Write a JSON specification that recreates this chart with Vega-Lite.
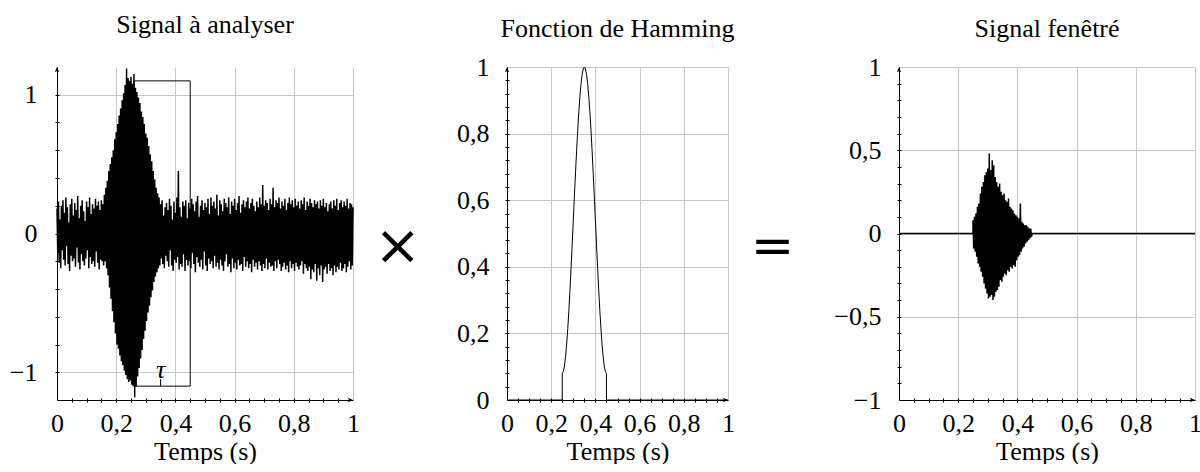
{
"$schema": "https://vega.github.io/schema/vega-lite/v6.json",
"background": "white",
"padding": {"left": 9, "top": 12, "right": 0, "bottom": 0},
"bounds": "flush",
"spacing": 0,
"datasets": {
"sig": [
{"t":0,"v":0.18},{"t":0.0025,"v":-0.14},{"t":0.005,"v":0.23},{"t":0.0075,"v":-0.21},{"t":0.01,"v":0.1},{"t":0.0125,"v":-0.25},{"t":0.015,"v":0.2},{"t":0.0175,"v":-0.12},{"t":0.02,"v":0.24},{"t":0.0225,"v":-0.19},
{"t":0.025,"v":0.15},{"t":0.0275,"v":-0.23},{"t":0.03,"v":0.26},{"t":0.0325,"v":-0.09},{"t":0.035,"v":0.19},{"t":0.0375,"v":-0.22},{"t":0.04,"v":0.08},{"t":0.0425,"v":-0.27},{"t":0.045,"v":0.21},{"t":0.0475,"v":-0.16},
{"t":0.05,"v":0.25},{"t":0.0525,"v":-0.2},{"t":0.055,"v":0.13},{"t":0.0575,"v":-0.18},{"t":0.06,"v":0.22},{"t":0.0625,"v":-0.24},{"t":0.065,"v":0.17},{"t":0.0675,"v":-0.1},{"t":0.07,"v":0.27},{"t":0.0725,"v":-0.21},
{"t":0.075,"v":0.11},{"t":0.0775,"v":-0.26},{"t":0.08,"v":0.2},{"t":0.0825,"v":-0.15},{"t":0.085,"v":0.24},{"t":0.0875,"v":-0.2},{"t":0.09,"v":0.16},{"t":0.0925,"v":-0.23},{"t":0.095,"v":0.09},{"t":0.0975,"v":-0.18},
{"t":0.1,"v":0.23},{"t":0.1025,"v":-0.12},{"t":0.105,"v":0.19},{"t":0.1075,"v":-0.25},{"t":0.11,"v":0.26},{"t":0.1125,"v":-0.17},{"t":0.115,"v":0.14},{"t":0.1175,"v":-0.22},{"t":0.12,"v":0.21},{"t":0.1225,"v":-0.2},
{"t":0.125,"v":0.18},{"t":0.1275,"v":-0.24},{"t":0.13,"v":0.25},{"t":0.1325,"v":-0.13},{"t":0.135,"v":0.2},{"t":0.1375,"v":-0.21},{"t":0.14,"v":0.23},{"t":0.1425,"v":-0.26},{"t":0.145,"v":0.17},{"t":0.1475,"v":-0.19},
{"t":0.15,"v":0.24},{"t":0.1525,"v":-0.2},{"t":0.155,"v":0.21},{"t":0.1575,"v":-0.23},{"t":0.16,"v":0.28},{"t":0.1625,"v":-0.2},{"t":0.165,"v":0.33},{"t":0.1675,"v":-0.25},{"t":0.17,"v":0.38},{"t":0.1725,"v":-0.3},
{"t":0.175,"v":0.45},{"t":0.1775,"v":-0.39},{"t":0.18,"v":0.5},{"t":0.1825,"v":-0.47},{"t":0.185,"v":0.55},{"t":0.1875,"v":-0.56},{"t":0.19,"v":0.6},{"t":0.1925,"v":-0.64},{"t":0.195,"v":0.68},{"t":0.1975,"v":-0.72},
{"t":0.2,"v":0.73},{"t":0.2025,"v":-0.8},{"t":0.205,"v":0.79},{"t":0.2075,"v":-0.83},{"t":0.21,"v":0.85},{"t":0.2125,"v":-0.88},{"t":0.215,"v":0.9},{"t":0.2175,"v":-0.92},{"t":0.22,"v":0.96},{"t":0.2225,"v":-0.95},
{"t":0.225,"v":1.01},{"t":0.2275,"v":-0.99},{"t":0.23,"v":1.07},{"t":0.2325,"v":-1.02},{"t":0.235,"v":1.19},{"t":0.2375,"v":-1.05},{"t":0.24,"v":1.12},{"t":0.2425,"v":-1.07},{"t":0.245,"v":1.1},{"t":0.2475,"v":-1.06},
{"t":0.25,"v":1.13},{"t":0.2525,"v":-1.09},{"t":0.255,"v":1.08},{"t":0.2575,"v":-1.1},{"t":0.26,"v":1.15},{"t":0.2625,"v":-1.18},{"t":0.265,"v":1.05},{"t":0.2675,"v":-1.1},{"t":0.27,"v":1.02},{"t":0.2725,"v":-1.03},
{"t":0.275,"v":0.98},{"t":0.2775,"v":-0.97},{"t":0.28,"v":0.94},{"t":0.2825,"v":-0.9},{"t":0.285,"v":0.88},{"t":0.2875,"v":-0.84},{"t":0.29,"v":0.84},{"t":0.2925,"v":-0.76},{"t":0.295,"v":0.79},{"t":0.2975,"v":-0.7},
{"t":0.3,"v":0.72},{"t":0.3025,"v":-0.63},{"t":0.305,"v":0.69},{"t":0.3075,"v":-0.57},{"t":0.31,"v":0.63},{"t":0.3125,"v":-0.52},{"t":0.315,"v":0.57},{"t":0.3175,"v":-0.46},{"t":0.32,"v":0.52},{"t":0.3225,"v":-0.41},
{"t":0.325,"v":0.45},{"t":0.3275,"v":-0.35},{"t":0.33,"v":0.39},{"t":0.3325,"v":-0.31},{"t":0.335,"v":0.33},{"t":0.3375,"v":-0.28},{"t":0.34,"v":0.29},{"t":0.3425,"v":-0.25},{"t":0.345,"v":0.26},{"t":0.3475,"v":-0.23},
{"t":0.35,"v":0.21},{"t":0.3525,"v":-0.18},{"t":0.355,"v":0.24},{"t":0.3575,"v":-0.22},{"t":0.36,"v":0.13},{"t":0.3625,"v":-0.25},{"t":0.365,"v":0.19},{"t":0.3675,"v":-0.16},{"t":0.37,"v":0.22},{"t":0.3725,"v":-0.2},
{"t":0.375,"v":0.17},{"t":0.3775,"v":-0.24},{"t":0.38,"v":0.25},{"t":0.3825,"v":-0.12},{"t":0.385,"v":0.2},{"t":0.3875,"v":-0.23},{"t":0.39,"v":0.1},{"t":0.3925,"v":-0.27},{"t":0.395,"v":0.23},{"t":0.3975,"v":-0.19},
{"t":0.4,"v":0.15},{"t":0.4025,"v":-0.21},{"t":0.405,"v":0.26},{"t":0.4075,"v":-0.17},{"t":0.41,"v":0.45},{"t":0.4125,"v":-0.26},{"t":0.415,"v":0.19},{"t":0.4175,"v":-0.22},{"t":0.42,"v":0.12},{"t":0.4225,"v":-0.24},
{"t":0.425,"v":0.23},{"t":0.4275,"v":-0.15},{"t":0.43,"v":0.2},{"t":0.4325,"v":-0.27},{"t":0.435,"v":0.24},{"t":0.4375,"v":-0.19},{"t":0.44,"v":0.11},{"t":0.4425,"v":-0.23},{"t":0.445,"v":0.22},{"t":0.4475,"v":-0.2},
{"t":0.45,"v":0.18},{"t":0.4525,"v":-0.25},{"t":0.455,"v":0.25},{"t":0.4575,"v":-0.14},{"t":0.46,"v":0.21},{"t":0.4625,"v":-0.22},{"t":0.465,"v":0.16},{"t":0.4675,"v":-0.28},{"t":0.47,"v":0.23},{"t":0.4725,"v":-0.17},
{"t":0.475,"v":0.27},{"t":0.4775,"v":-0.21},{"t":0.48,"v":0.12},{"t":0.4825,"v":-0.24},{"t":0.485,"v":0.2},{"t":0.4875,"v":-0.19},{"t":0.49,"v":0.24},{"t":0.4925,"v":-0.26},{"t":0.495,"v":0.17},{"t":0.4975,"v":-0.13},
{"t":0.5,"v":0.22},{"t":0.5025,"v":-0.23},{"t":0.505,"v":0.19},{"t":0.5075,"v":-0.27},{"t":0.51,"v":0.25},{"t":0.5125,"v":-0.18},{"t":0.515,"v":0.14},{"t":0.5175,"v":-0.22},{"t":0.52,"v":0.26},{"t":0.5225,"v":-0.2},
{"t":0.525,"v":0.2},{"t":0.5275,"v":-0.25},{"t":0.53,"v":0.23},{"t":0.5325,"v":-0.16},{"t":0.535,"v":0.18},{"t":0.5375,"v":-0.24},{"t":0.54,"v":0.28},{"t":0.5425,"v":-0.21},{"t":0.545,"v":0.13},{"t":0.5475,"v":-0.26},
{"t":0.55,"v":0.24},{"t":0.5525,"v":-0.19},{"t":0.555,"v":0.21},{"t":0.5575,"v":-0.23},{"t":0.56,"v":0.16},{"t":0.5625,"v":-0.27},{"t":0.565,"v":0.25},{"t":0.5675,"v":-0.2},{"t":0.57,"v":0.22},{"t":0.5725,"v":-0.15},
{"t":0.575,"v":0.19},{"t":0.5775,"v":-0.24},{"t":0.58,"v":0.26},{"t":0.5825,"v":-0.22},{"t":0.585,"v":0.14},{"t":0.5875,"v":-0.28},{"t":0.59,"v":0.23},{"t":0.5925,"v":-0.18},{"t":0.595,"v":0.2},{"t":0.5975,"v":-0.25},
{"t":0.6,"v":0.25},{"t":0.6025,"v":-0.21},{"t":0.605,"v":0.17},{"t":0.6075,"v":-0.26},{"t":0.61,"v":0.22},{"t":0.6125,"v":-0.19},{"t":0.615,"v":0.27},{"t":0.6175,"v":-0.23},{"t":0.62,"v":0.15},{"t":0.6225,"v":-0.22},
{"t":0.625,"v":0.21},{"t":0.6275,"v":-0.27},{"t":0.63,"v":0.24},{"t":0.6325,"v":-0.17},{"t":0.635,"v":0.19},{"t":0.6375,"v":-0.24},{"t":0.64,"v":0.23},{"t":0.6425,"v":-0.2},{"t":0.645,"v":0.26},{"t":0.6475,"v":-0.25},
{"t":0.65,"v":0.18},{"t":0.6525,"v":-0.22},{"t":0.655,"v":0.22},{"t":0.6575,"v":-0.28},{"t":0.66,"v":0.25},{"t":0.6625,"v":-0.19},{"t":0.665,"v":0.2},{"t":0.6675,"v":-0.24},{"t":0.67,"v":0.16},{"t":0.6725,"v":-0.21},
{"t":0.675,"v":0.23},{"t":0.6775,"v":-0.26},{"t":0.68,"v":0.19},{"t":0.6825,"v":-0.2},{"t":0.685,"v":0.26},{"t":0.6875,"v":-0.23},{"t":0.69,"v":0.21},{"t":0.6925,"v":-0.27},{"t":0.695,"v":0.35},{"t":0.6975,"v":-0.22},
{"t":0.7,"v":0.2},{"t":0.7025,"v":-0.25},{"t":0.705,"v":0.24},{"t":0.7075,"v":-0.18},{"t":0.71,"v":0.22},{"t":0.7125,"v":-0.26},{"t":0.715,"v":0.17},{"t":0.7175,"v":-0.21},{"t":0.72,"v":0.25},{"t":0.7225,"v":-0.24},
{"t":0.725,"v":0.21},{"t":0.7275,"v":-0.23},{"t":0.73,"v":0.33},{"t":0.7325,"v":-0.27},{"t":0.735,"v":0.19},{"t":0.7375,"v":-0.2},{"t":0.74,"v":0.24},{"t":0.7425,"v":-0.25},{"t":0.745,"v":0.22},{"t":0.7475,"v":-0.19},
{"t":0.75,"v":0.26},{"t":0.7525,"v":-0.22},{"t":0.755,"v":0.18},{"t":0.7575,"v":-0.27},{"t":0.76,"v":0.23},{"t":0.7625,"v":-0.24},{"t":0.765,"v":0.2},{"t":0.7675,"v":-0.21},{"t":0.77,"v":0.25},{"t":0.7725,"v":-0.26},
{"t":0.775,"v":0.17},{"t":0.7775,"v":-0.23},{"t":0.78,"v":0.22},{"t":0.7825,"v":-0.28},{"t":0.785,"v":0.26},{"t":0.7875,"v":-0.2},{"t":0.79,"v":0.21},{"t":0.7925,"v":-0.25},{"t":0.795,"v":0.24},{"t":0.7975,"v":-0.22},
{"t":0.8,"v":0.19},{"t":0.8025,"v":-0.27},{"t":0.805,"v":0.25},{"t":0.8075,"v":-0.21},{"t":0.81,"v":0.2},{"t":0.8125,"v":-0.24},{"t":0.815,"v":0.23},{"t":0.8175,"v":-0.26},{"t":0.82,"v":0.18},{"t":0.8225,"v":-0.23},
{"t":0.825,"v":0.24},{"t":0.8275,"v":-0.2},{"t":0.83,"v":0.21},{"t":0.8325,"v":-0.29},{"t":0.835,"v":0.26},{"t":0.8375,"v":-0.22},{"t":0.84,"v":0.17},{"t":0.8425,"v":-0.25},{"t":0.845,"v":0.23},{"t":0.8475,"v":-0.27},
{"t":0.85,"v":0.2},{"t":0.8525,"v":-0.24},{"t":0.855,"v":0.25},{"t":0.8575,"v":-0.33},{"t":0.86,"v":0.22},{"t":0.8625,"v":-0.26},{"t":0.865,"v":0.19},{"t":0.8675,"v":-0.28},{"t":0.87,"v":0.24},{"t":0.8725,"v":-0.22},
{"t":0.875,"v":0.21},{"t":0.8775,"v":-0.34},{"t":0.88,"v":0.23},{"t":0.8825,"v":-0.25},{"t":0.885,"v":0.18},{"t":0.8875,"v":-0.3},{"t":0.89,"v":0.24},{"t":0.8925,"v":-0.23},{"t":0.895,"v":0.2},{"t":0.8975,"v":-0.35},
{"t":0.9,"v":0.25},{"t":0.9025,"v":-0.26},{"t":0.905,"v":0.19},{"t":0.9075,"v":-0.24},{"t":0.91,"v":0.22},{"t":0.9125,"v":-0.29},{"t":0.915,"v":0.16},{"t":0.9175,"v":-0.22},{"t":0.92,"v":0.21},{"t":0.9225,"v":-0.27},
{"t":0.925,"v":0.23},{"t":0.9275,"v":-0.25},{"t":0.93,"v":0.18},{"t":0.9325,"v":-0.3},{"t":0.935,"v":0.24},{"t":0.9375,"v":-0.23},{"t":0.94,"v":0.2},{"t":0.9425,"v":-0.28},{"t":0.945,"v":0.25},{"t":0.9475,"v":-0.24},
{"t":0.95,"v":0.17},{"t":0.9525,"v":-0.26},{"t":0.955,"v":0.22},{"t":0.9575,"v":-0.21},{"t":0.96,"v":0.24},{"t":0.9625,"v":-0.27},{"t":0.965,"v":0.19},{"t":0.9675,"v":-0.25},{"t":0.97,"v":0.23},{"t":0.9725,"v":-0.22},
{"t":0.975,"v":0.2},{"t":0.9775,"v":-0.28},{"t":0.98,"v":0.25},{"t":0.9825,"v":-0.24},{"t":0.985,"v":0.18},{"t":0.9875,"v":-0.2},{"t":0.99,"v":0.22},{"t":0.9925,"v":-0.26},{"t":0.995,"v":0.21},{"t":0.9975,"v":-0.23},
{"t":1,"v":0.19}
],
"ham": [
{"t":0,"v":0},{"t":0.25,"v":0},{"t":0.25,"v":0.08},{"t":0.255,"v":0.0857},{"t":0.26,"v":0.1025},{"t":0.265,"v":0.1301},{"t":0.27,"v":0.1679},{"t":0.275,"v":0.2147},{"t":0.28,"v":0.2696},{"t":0.285,"v":0.3312},{"t":0.29,"v":0.3979},{"t":0.295,"v":0.468},{"t":0.3,"v":0.54},{"t":0.305,"v":0.612},{"t":0.31,"v":0.6821},{"t":0.315,"v":0.7488},{"t":0.32,"v":0.8104},{"t":0.325,"v":0.8653},{"t":0.33,"v":0.9121},{"t":0.335,"v":0.9499},{"t":0.34,"v":0.9775},{"t":0.345,"v":0.9943},{"t":0.35,"v":1},{"t":0.355,"v":0.9943},{"t":0.36,"v":0.9775},{"t":0.365,"v":0.9499},{"t":0.37,"v":0.9121},{"t":0.375,"v":0.8653},{"t":0.38,"v":0.8104},{"t":0.385,"v":0.7488},{"t":0.39,"v":0.6821},{"t":0.395,"v":0.612},{"t":0.4,"v":0.54},{"t":0.405,"v":0.468},{"t":0.41,"v":0.3979},{"t":0.415,"v":0.3312},{"t":0.42,"v":0.2696},{"t":0.425,"v":0.2147},{"t":0.43,"v":0.1679},{"t":0.435,"v":0.1301},{"t":0.44,"v":0.1025},{"t":0.445,"v":0.0857},{"t":0.45,"v":0.08},{"t":0.45,"v":0},{"t":1,"v":0}
],
"win": [
{"t":0,"v":0},{"t":0.25,"v":0},
{"t":0.25,"v":0.08},{"t":0.2525,"v":-0.09},{"t":0.255,"v":0.1},{"t":0.2575,"v":-0.11},{"t":0.26,"v":0.12},{"t":0.2625,"v":-0.14},{"t":0.265,"v":0.16},{"t":0.2675,"v":-0.18},{"t":0.27,"v":0.18},{"t":0.2725,"v":-0.2},
{"t":0.275,"v":0.24},{"t":0.2775,"v":-0.23},{"t":0.28,"v":0.28},{"t":0.2825,"v":-0.26},{"t":0.285,"v":0.31},{"t":0.2875,"v":-0.3},{"t":0.29,"v":0.35},{"t":0.2925,"v":-0.33},{"t":0.295,"v":0.37},{"t":0.2975,"v":-0.36},
{"t":0.3,"v":0.39},{"t":0.3025,"v":-0.39},{"t":0.305,"v":0.48},{"t":0.3075,"v":-0.38},{"t":0.31,"v":0.38},{"t":0.3125,"v":-0.37},{"t":0.315,"v":0.44},{"t":0.3175,"v":-0.4},{"t":0.32,"v":0.41},{"t":0.3225,"v":-0.38},
{"t":0.325,"v":0.34},{"t":0.3275,"v":-0.35},{"t":0.33,"v":0.31},{"t":0.3325,"v":-0.34},{"t":0.335,"v":0.28},{"t":0.3375,"v":-0.32},{"t":0.34,"v":0.3},{"t":0.3425,"v":-0.28},{"t":0.345,"v":0.25},{"t":0.3475,"v":-0.29},
{"t":0.35,"v":0.23},{"t":0.3525,"v":-0.26},{"t":0.355,"v":0.24},{"t":0.3575,"v":-0.24},{"t":0.36,"v":0.2},{"t":0.3625,"v":-0.25},{"t":0.365,"v":0.19},{"t":0.3675,"v":-0.22},{"t":0.37,"v":0.21},{"t":0.3725,"v":-0.23},
{"t":0.375,"v":0.16},{"t":0.3775,"v":-0.2},{"t":0.38,"v":0.15},{"t":0.3825,"v":-0.21},{"t":0.385,"v":0.14},{"t":0.3875,"v":-0.19},{"t":0.39,"v":0.12},{"t":0.3925,"v":-0.2},{"t":0.395,"v":0.11},{"t":0.3975,"v":-0.16},
{"t":0.4,"v":0.1},{"t":0.4025,"v":-0.14},{"t":0.405,"v":0.09},{"t":0.4075,"v":-0.13},{"t":0.41,"v":0.18},{"t":0.4125,"v":-0.11},{"t":0.415,"v":0.07},{"t":0.4175,"v":-0.09},{"t":0.42,"v":0.06},{"t":0.4225,"v":-0.08},
{"t":0.425,"v":0.05},{"t":0.4275,"v":-0.06},{"t":0.43,"v":0.05},{"t":0.4325,"v":-0.05},{"t":0.435,"v":0.04},{"t":0.4375,"v":-0.04},{"t":0.44,"v":0.03},{"t":0.4425,"v":-0.03},{"t":0.445,"v":0.03},{"t":0.4475,"v":-0.02},
{"t":0.45,"v":0},{"t":1,"v":0}
]
},
"hconcat": [
{
"width": 296, "height": 333,
"title": {"text": "Signal à analyser", "offset": 27},
"layer": [
{"data": {"name": "sig"}, "mark": {"type": "line", "color": "black", "strokeWidth": 1.5},
 "encoding": {
  "x": {"field": "t", "type": "quantitative", "scale": {"domain": [0, 1], "nice": false, "zero": false},
        "axis": {"values": [0, 0.2, 0.4, 0.6, 0.8, 1], "grid": true, "ticks": false, "tickSize": 0, "labelPadding": 10, "labelExpr": "replace(format(datum.value,'~g'),'.',',')", "title": "Temps (s)", "titlePadding": 2}},
  "y": {"field": "v", "type": "quantitative", "scale": {"domain": [-1.2, 1.2], "nice": false, "zero": false},
        "axis": {"values": [-1, 0, 1], "grid": true, "ticks": false, "tickSize": 0, "labelPadding": 20, "labelExpr": "replace(format(datum.value,'~g'),'.',',')", "title": null}}
 }},
{"data": {"values": [{"x0": 0.26, "x1": 0.45, "y0": -1.1, "y1": 1.1}]}, "mark": {"type": "rect", "fill": "white", "fillOpacity": 0, "stroke": "black", "strokeWidth": 1},
 "encoding": {"x": {"field": "x0", "type": "quantitative", "axis": null}, "x2": {"field": "x1"}, "y": {"field": "y0", "type": "quantitative", "axis": null}, "y2": {"field": "y1"}}},
{"data": {"values": [{"x": 0.35, "y0": -1.1, "y1": -1.05}]}, "mark": {"type": "rule", "color": "black", "strokeWidth": 1},
 "encoding": {"x": {"field": "x", "type": "quantitative", "axis": null}, "y": {"field": "y0", "type": "quantitative", "axis": null}, "y2": {"field": "y1"}}},
{"data": {"values": [{"x": 0.35, "y": -1.045, "label": "τ"}]}, "mark": {"type": "text", "font": "Liberation Serif", "fontStyle": "italic", "fontSize": 26, "baseline": "alphabetic", "align": "center", "color": "black"},
 "encoding": {"x": {"field": "x", "type": "quantitative", "axis": null}, "y": {"field": "y", "type": "quantitative", "axis": null}, "text": {"field": "label"}}},
{"data": {"values": [{"x": 0, "y": 1.2, "dir": "up"}, {"x": 1, "y": -1.2, "dir": "right"}]}, "mark": {"type": "point", "filled": true, "color": "black", "size": 64, "opacity": 1},
 "encoding": {
  "x": {"field": "x", "type": "quantitative", "axis": {"orient": "bottom", "values": [0.05,0.1,0.15,0.2,0.25,0.3,0.35,0.4,0.45,0.5,0.55,0.6,0.65,0.7,0.75,0.8,0.85,0.9,0.95], "offset": -2, "tickSize": 4, "domain": false, "labels": false, "grid": false, "title": null}},
  "y": {"field": "y", "type": "quantitative", "axis": {"orient": "left", "values": [-1,-0.8,-0.6,-0.4,-0.2,0,0.2,0.4,0.6,0.8,1], "offset": -2, "tickSize": 4, "domain": false, "labels": false, "grid": false, "title": null}},
  "shape": {"field": "dir", "type": "nominal", "scale": {"domain": ["up", "right"], "range": ["M0,0L-0.55,1.3L0,1L0.55,1.3Z", "M0,0L-1.3,-0.55L-1,0L-1.3,0.55Z"]}, "legend": null}
 }}
],
"resolve": {"axis": {"x": "independent", "y": "independent"}}
},
{
"width": 154, "height": 333,
"data": {"values": [{"s": "×"}]},
"mark": {"type": "text", "font": "DejaVu Sans", "fontSize": 56, "baseline": "middle", "align": "center", "color": "black"},
"encoding": {
 "text": {"field": "s"},
 "x": {"datum": 0.29, "type": "quantitative", "scale": {"domain": [0, 1]}, "axis": null},
 "y": {"datum": 0.46, "type": "quantitative", "scale": {"domain": [0, 1]}, "axis": null}
}
},
{
"width": 221, "height": 333,
"title": {"text": "Fonction de Hamming", "offset": 12},
"layer": [
{"data": {"name": "ham"}, "mark": {"type": "line", "color": "black", "strokeWidth": 1},
 "encoding": {
  "x": {"field": "t", "type": "quantitative", "scale": {"domain": [0, 1], "nice": false, "zero": false},
        "axis": {"values": [0, 0.2, 0.4, 0.6, 0.8, 1], "grid": true, "ticks": false, "tickSize": 0, "labelPadding": 10, "labelExpr": "replace(format(datum.value,'~g'),'.',',')", "title": "Temps (s)", "titlePadding": 2}},
  "y": {"field": "v", "type": "quantitative", "scale": {"domain": [0, 1], "nice": false, "zero": false},
        "axis": {"values": [0, 0.2, 0.4, 0.6, 0.8, 1], "grid": true, "ticks": false, "tickSize": 0, "labelPadding": 18, "labelExpr": "replace(format(datum.value,'~g'),'.',',')", "title": null}}
 }},
{"data": {"values": [{"x": 0, "y": 1, "dir": "up"}, {"x": 1, "y": 0, "dir": "right"}]}, "mark": {"type": "point", "filled": true, "color": "black", "size": 64, "opacity": 1},
 "encoding": {
  "x": {"field": "x", "type": "quantitative", "axis": {"orient": "bottom", "values": [0.05,0.1,0.15,0.2,0.25,0.3,0.35,0.4,0.45,0.5,0.55,0.6,0.65,0.7,0.75,0.8,0.85,0.9,0.95], "offset": -2, "tickSize": 4, "domain": false, "labels": false, "grid": false, "title": null}},
  "y": {"field": "y", "type": "quantitative", "axis": {"orient": "left", "values": [0.04,0.08,0.12,0.16,0.2,0.24,0.28,0.32,0.36,0.4,0.44,0.48,0.52,0.56,0.6,0.64,0.68,0.72,0.76,0.8,0.84,0.88,0.92,0.96], "offset": -2, "tickSize": 4, "domain": false, "labels": false, "grid": false, "title": null}},
  "shape": {"field": "dir", "type": "nominal", "scale": {"domain": ["up", "right"], "range": ["M0,0L-0.55,1.3L0,1L0.55,1.3Z", "M0,0L-1.3,-0.55L-1,0L-1.3,0.55Z"]}, "legend": null}
 }}
],
"resolve": {"axis": {"x": "independent", "y": "independent"}}
},
{
"width": 171, "height": 333,
"data": {"values": [{"s": "="}]},
"mark": {"type": "text", "font": "DejaVu Sans", "fontSize": 52, "baseline": "middle", "align": "center", "color": "black"},
"encoding": {
 "text": {"field": "s"},
 "x": {"datum": 0.26, "type": "quantitative", "scale": {"domain": [0, 1]}, "axis": null},
 "y": {"datum": 0.46, "type": "quantitative", "scale": {"domain": [0, 1]}, "axis": null}
}
},
{
"width": 296, "height": 333,
"title": {"text": "Signal fenêtré", "offset": 12},
"layer": [
{"data": {"name": "win"}, "mark": {"type": "line", "color": "black", "strokeWidth": 1.5},
 "encoding": {
  "x": {"field": "t", "type": "quantitative", "scale": {"domain": [0, 1], "nice": false, "zero": false},
        "axis": {"values": [0, 0.2, 0.4, 0.6, 0.8, 1], "grid": true, "ticks": false, "tickSize": 0, "labelPadding": 10, "labelExpr": "replace(format(datum.value,'~g'),'.',',')", "title": "Temps (s)", "titlePadding": 2}},
  "y": {"field": "v", "type": "quantitative", "scale": {"domain": [-1, 1], "nice": false, "zero": false},
        "axis": {"values": [-1, -0.5, 0, 0.5, 1], "grid": true, "ticks": false, "tickSize": 0, "labelPadding": 18, "labelExpr": "replace(format(datum.value,'~g'),'.',',')", "title": null}}
 }},
{"data": {"values": [{"x": 0, "y": 1, "dir": "up"}, {"x": 1, "y": -1, "dir": "right"}]}, "mark": {"type": "point", "filled": true, "color": "black", "size": 64, "opacity": 1},
 "encoding": {
  "x": {"field": "x", "type": "quantitative", "axis": {"orient": "bottom", "values": [0.05,0.1,0.15,0.2,0.25,0.3,0.35,0.4,0.45,0.5,0.55,0.6,0.65,0.7,0.75,0.8,0.85,0.9,0.95], "offset": -2, "tickSize": 4, "domain": false, "labels": false, "grid": false, "title": null}},
  "y": {"field": "y", "type": "quantitative", "axis": {"orient": "left", "values": [-0.9,-0.8,-0.7,-0.6,-0.5,-0.4,-0.3,-0.2,-0.1,0,0.1,0.2,0.3,0.4,0.5,0.6,0.7,0.8,0.9], "offset": -2, "tickSize": 4, "domain": false, "labels": false, "grid": false, "title": null}},
  "shape": {"field": "dir", "type": "nominal", "scale": {"domain": ["up", "right"], "range": ["M0,0L-0.55,1.3L0,1L0.55,1.3Z", "M0,0L-1.3,-0.55L-1,0L-1.3,0.55Z"]}, "legend": null}
 }}
],
"resolve": {"axis": {"x": "independent", "y": "independent"}}
}
],
"config": {
 "view": {"stroke": null},
 "title": {"font": "Liberation Serif", "fontSize": 26, "fontWeight": "normal", "color": "black", "baseline": "alphabetic", "frame": "group", "anchor": "middle"},
 "axis": {"labelFont": "Liberation Serif", "labelFontSize": 26, "labelColor": "black", "titleFont": "Liberation Serif", "titleFontSize": 26, "titleFontWeight": "normal", "titleColor": "black", "gridColor": "#c8c8c8", "gridOpacity": 1, "gridWidth": 1, "domainColor": "black", "domainWidth": 1, "tickColor": "black", "tickWidth": 1, "labelFlush": false, "labelOverlap": false}
}
}
